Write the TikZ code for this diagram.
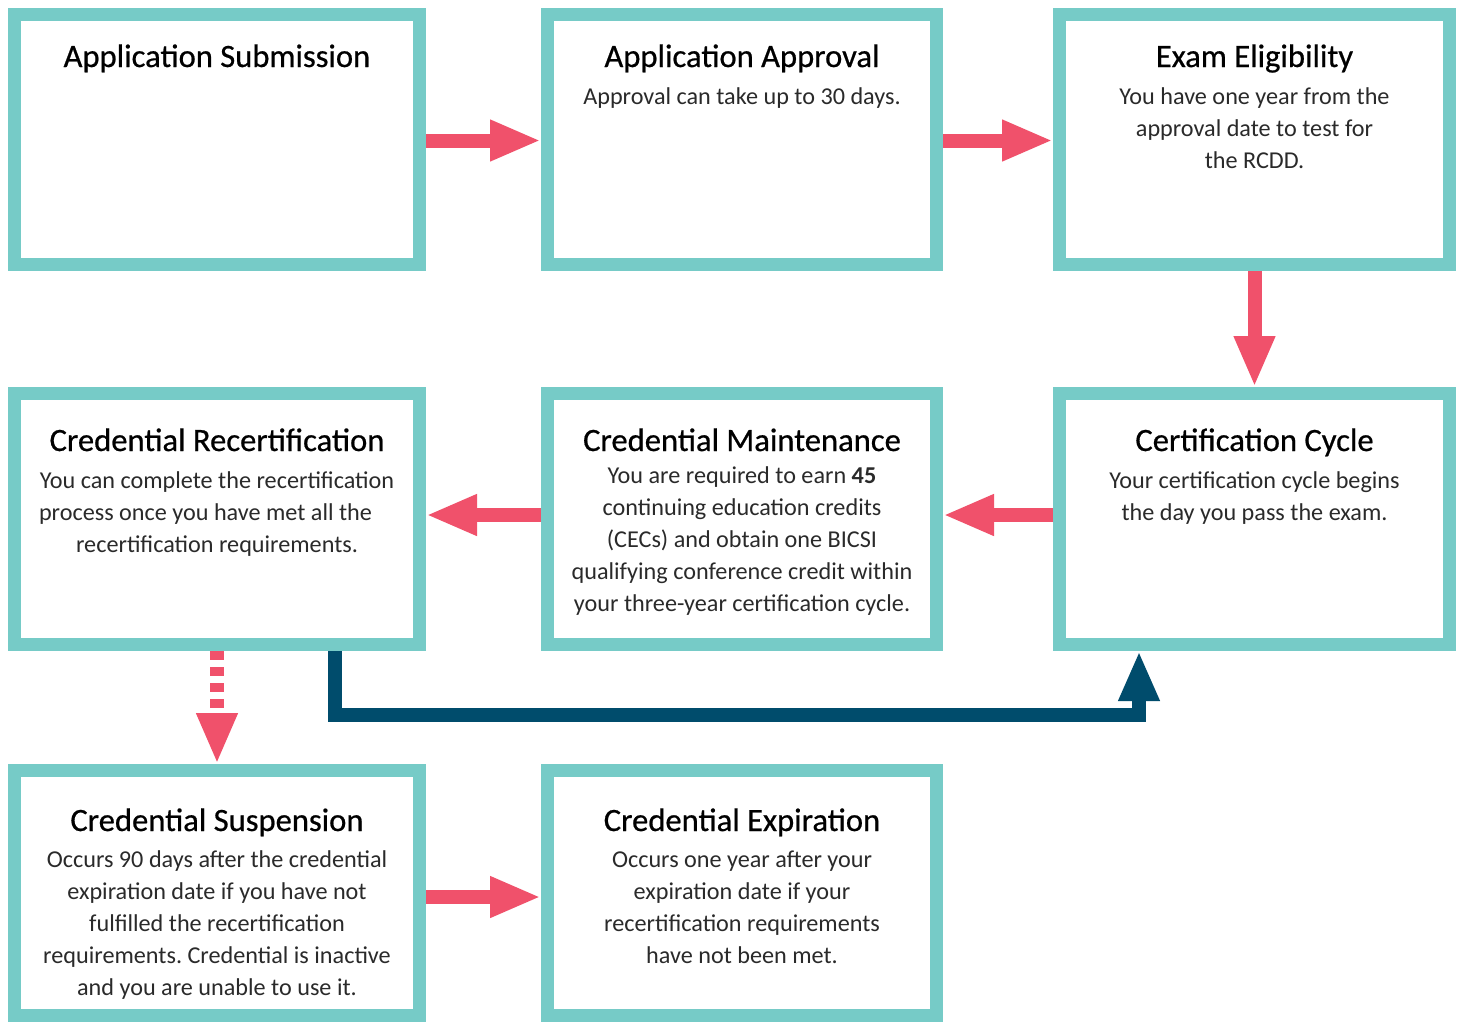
\documentclass[tikz,border=0pt]{standalone}
\usepackage{fontspec}
\setmainfont{Carlito}
\newfontfamily\titlefont{Carlito}[FakeBold=0.6]
\usetikzlibrary{arrows.meta,calc}
\definecolor{tealbox}{HTML}{76CBC7}
\definecolor{redarrow}{HTML}{F0516B}
\definecolor{navyarrow}{HTML}{004C6C}
\definecolor{bodytext}{HTML}{2A2A2A}
\frenchspacing
\begin{document}
\begin{tikzpicture}[x=1pt,y=-1pt,
  box/.style={draw=tealbox, line width=13pt, fill=white, inner sep=0pt},
  wideA/.style={minimum width=405pt},
  wideB/.style={minimum width=389pt},
  wideC/.style={minimum width=390pt},
  title/.style={anchor=base, inner sep=0pt, text=black, font=\titlefont\bfseries\mdseries\fontsize{32.6}{38}\selectfont},
  body/.style={anchor=north, inner sep=0pt, align=center, text=bodytext, font=\fontsize{24.2}{32}\selectfont},
  flow/.style={draw=redarrow, line width=14pt, -{Triangle[length=51pt,width=38pt]}},
  loopback/.style={draw=navyarrow, line width=14pt, line join=miter, -{Triangle[length=50pt,width=38pt]}}
]
\useasboundingbox (0,0) rectangle (1461,1021);
\fill[white] (0,0) rectangle (1461,1021);

% boxes
\node[box, wideA, minimum height=250pt] (b1) at (217,139.5) {};
\node[box, wideB, minimum height=250pt] (b2) at (742,139.5) {};
\node[box, wideC, minimum height=250pt] (b3) at (1254.5,139.5) {};
\node[box, wideA, minimum height=251pt] (b4) at (217,519) {};
\node[box, wideB, minimum height=251pt] (b5) at (742,519) {};
\node[box, wideC, minimum height=251pt] (b6) at (1254.5,519) {};
\node[box, wideA, minimum height=245pt] (b7) at (217,893) {};
\node[box, wideB, minimum height=245pt] (b8) at (742,893) {};

% titles
\node[title] (t1) at (217,67) {Application Submission};
\node[title] (t2) at (742,67) {Application Approval};
\node[title] (t3) at (1254.5,67) {Exam Eligibility};
\node[title] (t4) at (217,451) {Credential Recertification};
\node[title] (t5) at (742,451) {Credential Maintenance};
\node[title] (t6) at (1254.5,451) {Certification Cycle};
\node[title] (t7) at (217,831) {Credential Suspension};
\node[title] (t8) at (742,831) {Credential Expiration};

% body texts (top = first baseline - 20)
\node[body] (d2) at (742,84.5) {\rule{0pt}{20pt}Approval can take up to 30 days.};
\node[body] (d3) at (1254.5,84.5) {\rule{0pt}{20pt}You have one year from the\\approval date to test for\\the RCDD.};
\node[body] (d4) at (217,468.5) {\rule{0pt}{20pt}You can complete the recertification\\process once you have met all the\rule{23pt}{0pt}\\recertification requirements.};
\node[body] (d5) at (742,463) {\rule{0pt}{20pt}You are required to earn \textbf{45}\\continuing education credits\\(CECs) and obtain one BICSI\\qualifying conference credit within\\your three-year certification cycle.};
\node[body] (d6) at (1254.5,468.5) {\rule{0pt}{20pt}Your certification cycle begins\\the day you pass the exam.};
\node[body] (d7) at (217,847) {\rule{0pt}{20pt}Occurs 90 days after the credential\\expiration date if you have not\\fulfilled the recertification\\requirements. Credential is inactive\\and you are unable to use it.};
\node[body] (d8) at (742,847) {\rule{0pt}{20pt}Occurs one year after your\\expiration date if your\\recertification requirements\\have not been met.};

% connectors
\draw[flow] ($(b1.east)+(0,1)$) -- ($(b2.west)+(0,1)$);
\draw[flow] ($(b2.east)+(0,1)$) -- ($(b3.west)+(0,1)$);
\draw[flow] (b3.south) -- (b6.north);
\draw[flow] ($(b6.west)+(0,-4)$) -- ($(b5.east)+(0,-4)$);
\draw[flow] ($(b5.west)+(0,-4)$) -- ($(b4.east)+(0,-4)$);
\draw[flow, dash pattern=on 9pt off 7pt] (b4.south) -- (b7.north);
\draw[flow] ($(b7.east)+(0,4)$) -- ($(b8.west)+(0,4)$);

\coordinate (k1) at (335,715);
\coordinate (k2) at (1139,715);
\draw[loopback] (k1 |- b4.south) -- (k1) -- (k2) -- (k2 |- b6.south);
\end{tikzpicture}
\end{document}
